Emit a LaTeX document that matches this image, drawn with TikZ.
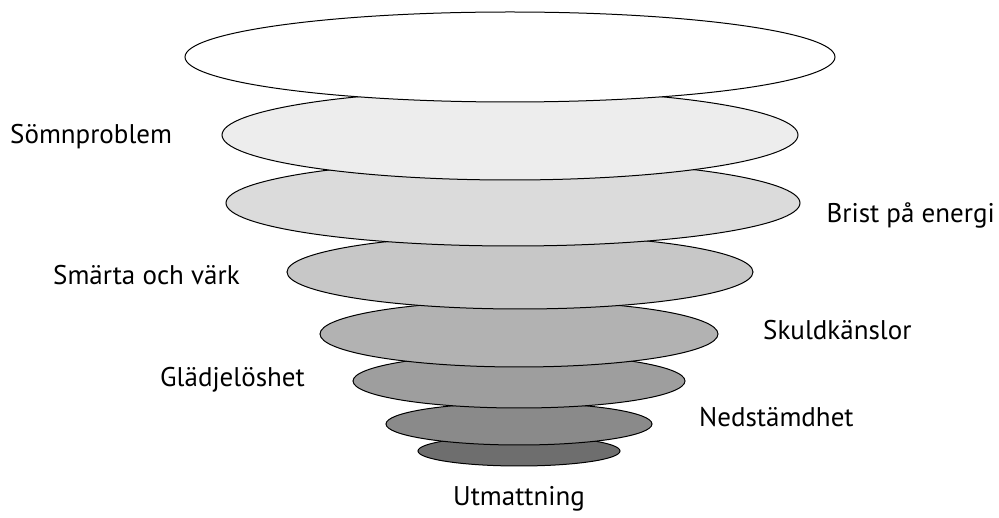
\documentclass[tikz,border=0pt]{standalone}
\usepackage{fontspec}
\setmainfont{PT Sans}
\tikzset{
  layer/.style={draw=black, line width=1pt},
  symptom/.style={font=\fontsize{27}{30}\selectfont, inner sep=0pt},
}
\begin{document}
\begin{tikzpicture}[x=1pt, y=-1pt]
        \useasboundingbox (0,0) rectangle (999,518);
        % Lager, minsta forst
        \draw[layer, fill=black!57] (519,451) ellipse (101 and 15);
        \draw[layer, fill=black!46] (519,424) ellipse (133 and 21);
        \draw[layer, fill=black!38] (519,381) ellipse (166 and 27);
        \draw[layer, fill=black!30] (519,334) ellipse (199 and 33);
        \draw[layer, fill=black!22] (520,272) ellipse (233 and 37);
        \draw[layer, fill=black!14] (513,203) ellipse (287 and 43);
        \draw[layer, fill=black!7] (510,135) ellipse (288 and 45);
        \draw[layer, fill=white] (510,57) ellipse (325 and 45);
        % Etiketter
        \node[symptom, anchor=west] (somn) at (10,137) {Sömnproblem};
        \node[symptom, anchor=east] (brist) at (995,215) {Brist på energi};
        \node[symptom, anchor=west] (smarta) at (53,275) {Smärta och värk};
        \node[symptom, anchor=west] (skuld) at (763,330) {Skuldkänslor};
        \node[symptom, anchor=west] (gladje) at (160,380) {Glädjelöshet};
        \node[symptom, anchor=west] (nedst) at (699,417) {Nedstämdhet};
        \node[symptom] (utmatt) at (519,499) {Utmattning};
\end{tikzpicture}
\end{document}
